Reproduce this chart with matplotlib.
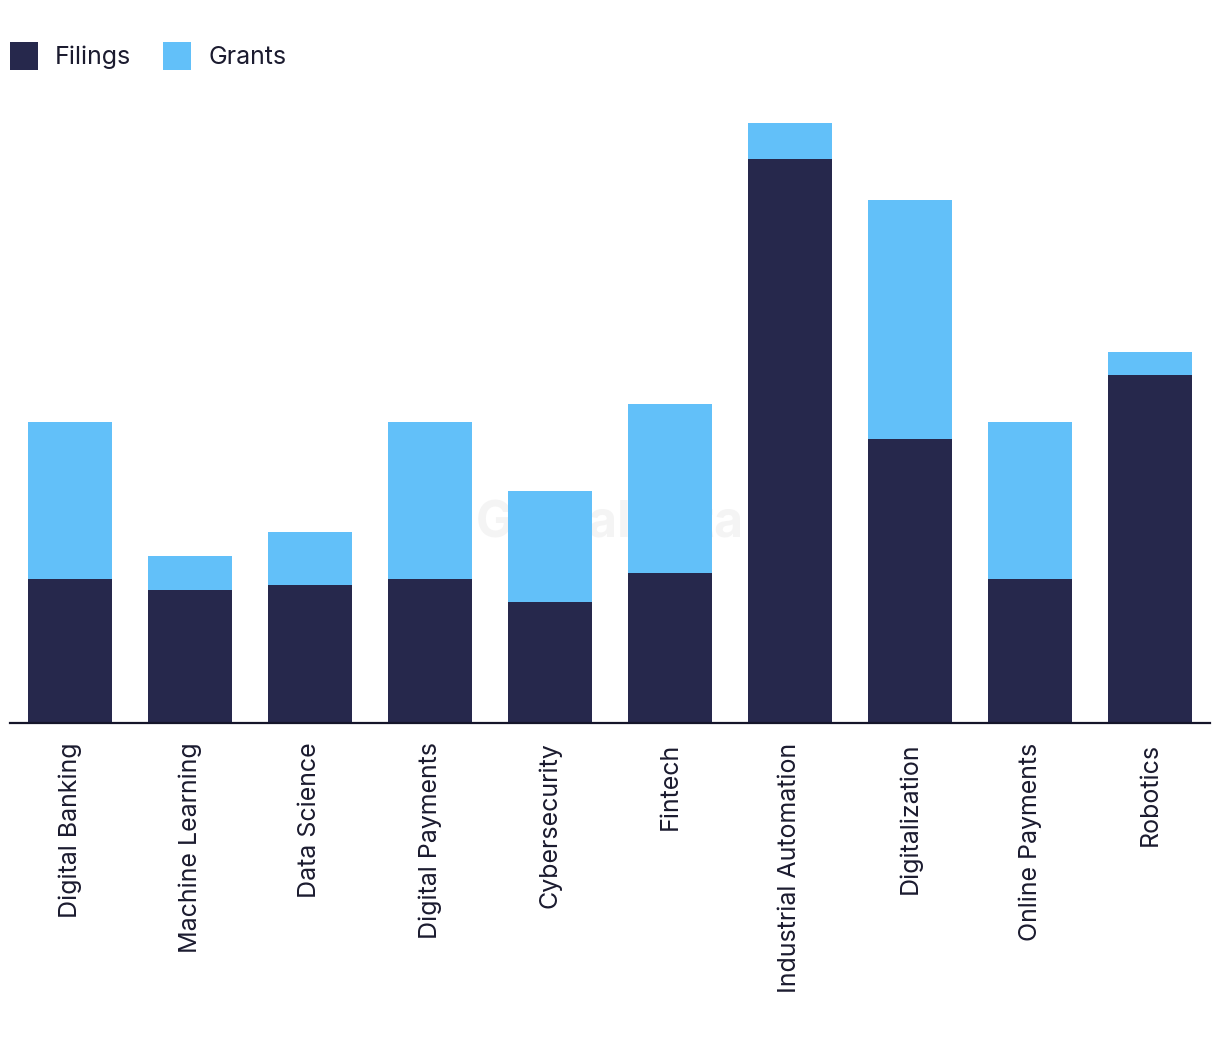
import matplotlib
matplotlib.use("Agg")
import matplotlib.pyplot as plt
import numpy as np

# data (arbitrary units, no axis shown)
topics = ["Digital Banking", "Machine Learning", "Data Science", "Digital Payments",
          "Cybersecurity", "Fintech", "Industrial Automation", "Digitalization",
          "Online Payments", "Robotics"]
filings = [25, 23.1, 24, 25, 21, 26, 98, 49.3, 25, 60.4]
grants = [27.3, 5.9, 9.2, 27.3, 19.3, 29.3, 6.1, 41.5, 27.3, 4.0]

dark = "#26284C"
light = "#62C0F9"
txt = "#1b1b2f"

plt.rcParams['font.family'] = ['Inter', 'DejaVu Sans']

fig = plt.figure(figsize=(12.2, 10.42), dpi=100)
ax = fig.add_axes([10/1220, (1042-723)/1042, 1200/1220, 623/1042])

x = np.arange(len(topics))
ax.bar(x, filings, width=0.7, color=dark, label="Filings", zorder=2)
ax.bar(x, grants, width=0.7, bottom=filings, color=light, label="Grants", zorder=2)

ax.text(0.5, 0.32, "GlobalData", transform=ax.transAxes, ha="center", va="center",
        fontsize=36, fontweight="bold", color="#f4f4f4", zorder=0)

ax.set_xlim(-0.5, len(topics) - 0.5)
ax.set_ylim(0, 623/5.76)
ax.set_xticks(x)
ax.set_xticklabels(topics, rotation=90, fontsize=18, color=txt)
ax.tick_params(axis="x", length=0, pad=14)
ax.set_yticks([])
for s in ["top", "right", "left"]:
    ax.spines[s].set_visible(False)
ax.spines["bottom"].set_color("#15152a")
ax.spines["bottom"].set_linewidth(1.6)

fig.legend(loc="upper left", bbox_to_anchor=(10/1220, 1 - 42/1042), ncol=2, frameon=False,
           fontsize=18, handlelength=1.12, handleheight=1.35, handletextpad=0.68,
           columnspacing=1.28, labelcolor=txt, borderaxespad=0, borderpad=0)

fig.savefig("out.png", dpi=100, facecolor="white")
